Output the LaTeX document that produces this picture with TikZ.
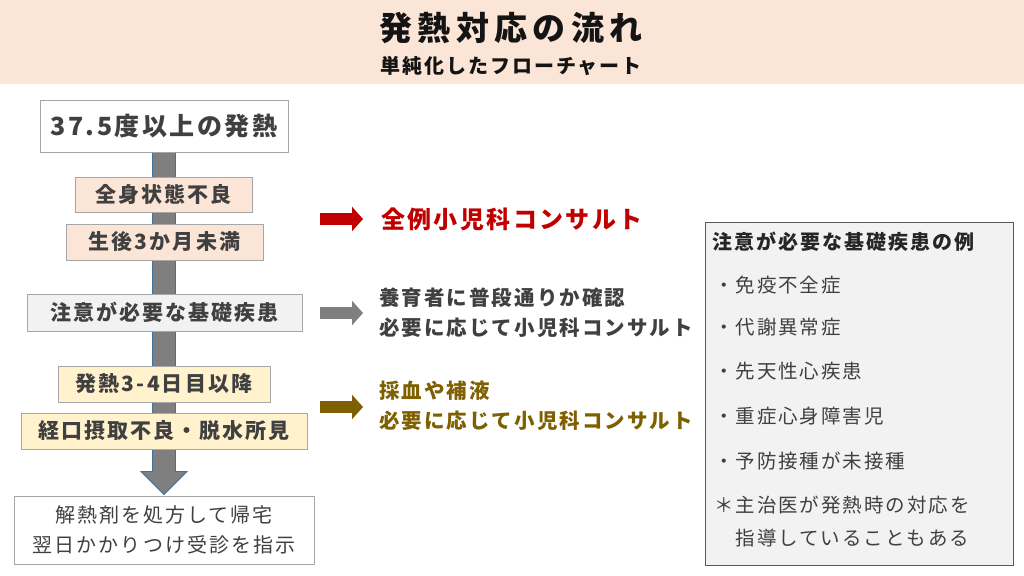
\documentclass[tikz,border=0pt]{standalone}
\usepackage{fontspec}
\setmainfont{Noto Sans CJK JP}[LetterSpace=10]
\newfontfamily\titlefont{Noto Sans CJK JP}[LetterSpace=16]
\usetikzlibrary{arrows.meta,backgrounds,calc}
\definecolor{band}{HTML}{FBE5D6}
\definecolor{peach}{HTML}{FBE5D6}
\definecolor{lgray}{HTML}{F2F2F2}
\definecolor{lyellow}{HTML}{FFF2CC}
\definecolor{bordergray}{HTML}{A6A6A6}
\definecolor{darkborder}{HTML}{595959}
\definecolor{txt}{HTML}{404040}
\definecolor{redc}{HTML}{C00000}
\definecolor{arrgray}{HTML}{7F7F7F}
\definecolor{brownc}{HTML}{7F6000}
\definecolor{arrblue}{HTML}{41719C}
\newcommand\fsz[2]{\fontsize{#1}{#2}\selectfont}
\begin{document}
\begin{tikzpicture}[x=1pt,y=-1pt,
  box/.style={draw=bordergray, line width=0.9pt, inner sep=0pt, text=txt, align=center},
  lblbox/.style={box, font=\bfseries\fsz{21}{25}},
  harrow/.style={line width=12pt, -{Triangle[width=24pt,length=11pt]}},
  sidetxt/.style={anchor=west, inner sep=0pt, align=left, font=\bfseries\fsz{20.5}{30}},
  item/.style={anchor=west, inner sep=0pt, text=txt, font=\fsz{19.5}{24}}
]
\useasboundingbox (0,0) rectangle (1024,575);
% title band
\node[fill=band, minimum width=1024pt, minimum height=84pt, inner sep=0pt, anchor=north west] (band) at (0,0) {};
\node[inner sep=0pt, font=\titlefont\bfseries\fsz{33}{36}, text=black!92] (title) at (511,28) {発熱対応の流れ};
\node[inner sep=0pt, font=\bfseries\fsz{20}{24}, text=black!92] (subtitle) at (511,66) {単純化したフローチャート};

% left flow boxes
\node[box, fill=white, minimum width=248pt, minimum height=52pt, font=\bfseries\fsz{25}{30}] (b1) at (164,126) {37.5度以上の発熱};
\node[lblbox, fill=peach, minimum width=177pt, minimum height=35pt] (b2) at (163.5,194.5) {全身状態不良};
\node[lblbox, fill=peach, minimum width=197pt, minimum height=36pt] (b3) at (164.5,242) {生後3か月未満};
\node[lblbox, fill=lgray, minimum width=275pt, minimum height=37pt] (b4) at (164.5,312.5) {注意が必要な基礎疾患};
\node[lblbox, fill=lyellow, minimum width=212pt, minimum height=36pt] (b5) at (164,384) {発熱3-4日目以降};
\node[lblbox, fill=lyellow, minimum width=286pt, minimum height=36pt] (b6) at (164,431) {経口摂取不良・脱水所見};
\node[box, fill=white, minimum width=300pt, minimum height=68pt, font=\fsz{20}{30}] (final) at (164,530) {解熱剤を処方して帰宅\\翌日かかりつけ受診を指示};

% main vertical arrow (behind the boxes)
\begin{scope}[on background layer]
\fill[white] (0,84) rectangle (1024,575);
\path[fill=arrgray, draw=arrblue, line width=0.8pt, line join=miter]
  ($(b1.south)+(-11.5,0)$) -- ($(final.north)+(-11.5,-24)$) -- ($(final.north)+(-23,-24)$)
  -- ($(final.north)+(0,-1)$) -- ($(final.north)+(23,-24)$) -- ($(final.north)+(11.5,-24)$)
  -- ($(b1.south)+(11.5,0)$) -- cycle;
\end{scope}

% side results
\node[sidetxt, text=redc, font=\bfseries\fsz{24}{28}] (r1) at (381,219) {全例小児科コンサルト};
\node[sidetxt, text=txt] (r2) at (379,313) {養育者に普段通りか確認\\必要に応じて小児科コンサルト};
\node[sidetxt, text=brownc] (r3) at (379,406) {採血や補液\\必要に応じて小児科コンサルト};

\coordinate (a1s) at (320,219); \coordinate (a1e) at (363,219);
\coordinate (a2s) at (320,313); \coordinate (a2e) at (363,313);
\coordinate (a3s) at (320,407); \coordinate (a3e) at (363,407);
\draw[harrow, draw=redc, fill=redc] (a1s) -- (a1e);
\draw[harrow, draw=arrgray, fill=arrgray] (a2s) -- (a2e);
\draw[harrow, draw=brownc, fill=brownc] (a3s) -- (a3e);

% right info box
\node[draw=darkborder, line width=0.9pt, fill=lgray, minimum width=308pt, minimum height=343pt, inner sep=0pt, anchor=north west] (info) at (705,222) {};
\node[anchor=west, inner sep=0pt, text=black!85, font=\bfseries\fsz{20}{24}] (ititle) at (712,242) {注意が必要な基礎疾患の例};
\node[item] (i1) at (714,285) {・免疫不全症};
\node[item] (i2) at (714,327) {・代謝異常症};
\node[item] (i3) at (714,371) {・先天性心疾患};
\node[item] (i4) at (714,416) {・重症心身障害児};
\node[item] (i5) at (714,461) {・予防接種が未接種};
\node[item] (i6) at (714,505) {＊主治医が発熱時の対応を};
\node[item] (i7) at (714,538) {　指導していることもある};
\end{tikzpicture}
\end{document}
